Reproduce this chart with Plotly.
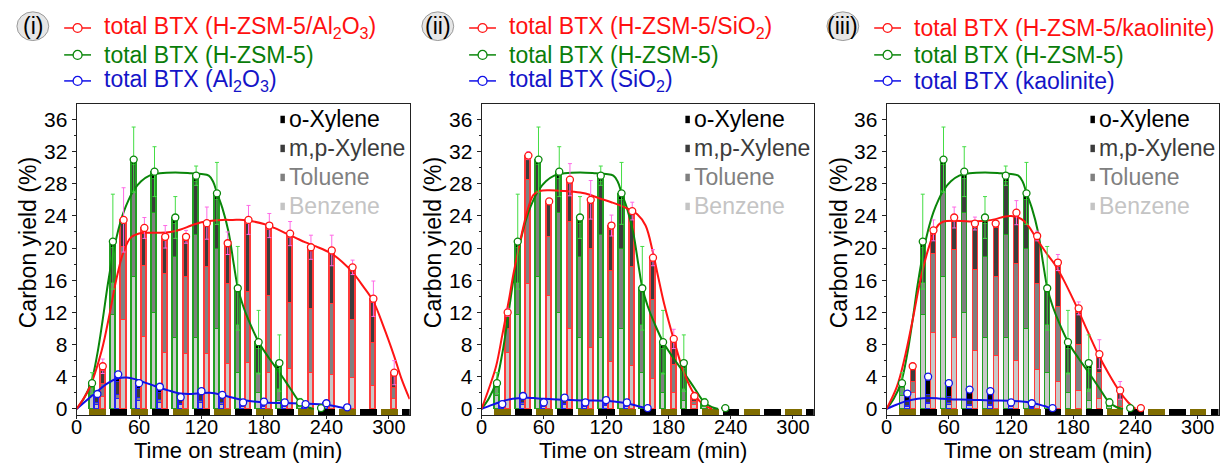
import plotly.graph_objects as go

W, H = 1220, 466
FONT = "Arial, Liberation Sans, sans-serif"

# ---------------- data ----------------
x_ticks = [0, 60, 120, 180, 240, 300]
y_ticks = [0, 4, 8, 12, 16, 20, 24, 28, 32, 36]
cycle_time = [20, 40, 60, 80, 100, 120, 140, 160, 180, 200, 220, 240, 260, 280, 300, 320]
component_labels = ["o-Xylene", "m,p-Xylene", "Toluene", "Benzene"]
panel_labels = ["(i)", "(ii)", "(iii)"]

# H-ZSM-5 alone (same run shown in every panel)
zsm_name = "total BTX (H-ZSM-5)"
zsm_time = [20, 40, 60, 80, 100, 120, 140, 160, 180, 200, 220, 240]
zsm_total = [3.2, 20.8, 31.0, 29.5, 23.8, 29.0, 26.8, 15.0, 8.3, 5.7, 0.8, 0.1]
zsm_err = [1.3, 5.9, 4.05, 3.1, 2.6, 1.2, 3.85, 5.2, 3.95, 3.5, 0.5, 0.0]
zsm_benzene = [1.6, 11.7, 16.4, 11.9, 8.8, 8.8, 10.0, 4.5, 2.0, 1.0, 0.2, 0.05]
zsm_toluene = [1.0, 4.0, 10.7, 12.5, 10.1, 12.9, 9.9, 6.0, 2.5, 1.5, 0.2, 0.03]
zsm_mpxylene = [0.45, 4.3, 3.3, 4.2, 4.1, 6.5, 6.1, 4.0, 3.0, 2.5, 0.3, 0.02]
zsm_oxylene = [0.15, 0.8, 0.6, 0.9, 0.8, 0.8, 0.8, 0.5, 0.8, 0.7, 0.1, 0.0]
zsm_fit_time = [0, 7, 14, 20, 25, 30, 35, 40, 45, 50, 55, 62, 70, 80, 95, 110, 120, 127, 131, 135,
                140, 146, 151, 155, 160, 167, 175, 185, 195, 205, 214, 222, 228]
zsm_fit_yield = [0, 1.3, 3.3, 6.9, 11.0, 15.5, 19.3, 22.2, 24.4, 26.0, 27.2, 28.3, 29.0, 29.3, 29.4, 29.3, 29.2, 29.0, 28.3, 26.8,
                 25.0, 22.0, 18.0, 15.0, 12.8, 10.5, 8.3, 6.3, 4.5, 2.6, 0.9, 0.2, 0]

# (i) H-ZSM-5/Al2O3 and Al2O3
hal_name = "total BTX (H-ZSM-5/Al<sub>2</sub>O<sub>3</sub>)"
hal_time = [20, 40, 60, 80, 100, 120, 140, 160, 180, 200, 220, 240, 260, 280, 300]
hal_total = [5.3, 23.5, 22.5, 21.4, 21.4, 23.1, 20.6, 23.5, 22.8, 21.8, 20.1, 19.7, 17.6, 13.7, 4.5]
hal_err = [0.9, 4.0, 1.3, 1.4, 0.8, 2.0, 1.4, 1.8, 1.5, 1.5, 1.5, 1.9, 0.9, 2.2, 1.5]
hal_benzene = [1.5, 11.1, 8.9, 7.0, 6.9, 6.8, 5.6, 5.7, 4.5, 5.0, 4.5, 4.2, 3.9, 2.9, 1.2]
hal_toluene = [1.6, 9.0, 8.9, 9.8, 9.5, 10.8, 10.0, 8.9, 9.5, 8.2, 7.9, 8.8, 7.2, 5.3, 1.4]
hal_mpxylene = [1.6, 2.9, 4.2, 4.1, 4.5, 5.0, 4.5, 8.4, 8.3, 8.1, 7.3, 6.3, 6.1, 5.0, 1.6]
hal_oxylene = [0.6, 0.5, 0.5, 0.5, 0.5, 0.5, 0.5, 0.5, 0.5, 0.5, 0.4, 0.4, 0.4, 0.5, 0.3]
hal_fit_time = [0, 12, 24, 32, 38, 45, 52, 60, 70, 80, 90, 100, 110, 120, 130, 140, 150, 160, 170, 180,
                190, 200, 210, 220, 230, 245, 255, 265, 275, 285, 295, 305, 312, 320]
hal_fit_yield = [0, 2.5, 7.2, 12.0, 16.0, 19.5, 21.3, 21.8, 21.9, 21.9, 22.0, 22.3, 22.8, 23.2, 23.4, 23.5, 23.5, 23.5, 23.3, 23.0,
                 22.5, 21.9, 21.3, 20.7, 20.2, 19.3, 18.3, 17.0, 15.3, 13.4, 10.2, 6.6, 3.8, 1.2]

al_name = "total BTX (Al<sub>2</sub>O<sub>3</sub>)"
al_time = [20, 40, 60, 80, 100, 120, 140, 160, 180, 200, 220, 240, 260]
al_total = [1.85, 4.3, 3.2, 2.75, 1.45, 2.2, 1.75, 0.8, 0.9, 0.8, 0.6, 0.7, 0.2]
al_err = [0.3, 0.4, 0.3, 0.3, 0.2, 0.3, 0.2, 0.1, 0.1, 0.1, 0.1, 0.1, 0.05]
al_benzene = [0.5, 1.3, 1.0, 0.8, 0.45, 0.7, 0.5, 0.25, 0.3, 0.25, 0.2, 0.2, 0.06]
al_toluene = [0.25, 0.5, 0.4, 0.35, 0.2, 0.3, 0.25, 0.1, 0.1, 0.1, 0.1, 0.1, 0.04]
al_mpxylene = [0.6, 1.5, 1.1, 0.9, 0.5, 0.7, 0.6, 0.25, 0.3, 0.25, 0.2, 0.25, 0.05]
al_oxylene = [0.5, 1.0, 0.7, 0.7, 0.3, 0.5, 0.4, 0.2, 0.2, 0.2, 0.1, 0.15, 0.05]
al_fit_time = [0, 10, 20, 30, 40, 48, 56, 65, 75, 88, 100, 110, 120, 128, 138, 148, 158, 168, 180, 200,
               220, 240, 250, 256, 260]
al_fit_yield = [0, 1.1, 2.2, 3.2, 3.8, 3.9, 3.7, 3.3, 2.85, 2.3, 1.9, 1.85, 1.95, 2.0, 1.8, 1.45, 1.15, 0.95, 0.8, 0.72,
                0.65, 0.5, 0.3, 0.12, 0]

# (ii) H-ZSM-5/SiO2 and SiO2
hsi_name = "total BTX (H-ZSM-5/SiO<sub>2</sub>)"
hsi_time = [20, 40, 60, 80, 100, 120, 140, 160, 180, 200]
hsi_total = [12.0, 31.5, 25.8, 28.5, 26.0, 22.8, 24.6, 18.8, 8.7, 1.6]
hsi_err = [0.5, 0.5, 0.3, 2.0, 2.4, 1.3, 1.1, 1.0, 1.2, 0.3]
hsi_benzene = [7.0, 15.5, 14.0, 10.0, 7.6, 5.9, 5.3, 3.7, 2.0, 0.5]
hsi_toluene = [3.0, 13.0, 7.35, 13.2, 12.3, 11.3, 12.3, 9.8, 3.5, 0.4]
hsi_mpxylene = [1.7, 2.5, 4.0, 4.8, 5.6, 5.1, 6.5, 4.8, 2.8, 0.5]
hsi_oxylene = [0.3, 0.5, 0.45, 0.5, 0.5, 0.5, 0.5, 0.5, 0.4, 0.2]
hsi_fit_time = [0, 7, 14, 20, 27, 30, 35, 40, 45, 50, 56, 65, 80, 95, 105, 113, 125, 139, 150, 158,
                165, 170, 176, 185, 195, 205, 214, 222]
hsi_fit_yield = [0, 2.5, 5.3, 9.2, 14.0, 16.3, 19.5, 22.5, 25.0, 26.6, 27.1, 27.2, 27.1, 26.9, 26.6, 26.2, 25.7, 25.0, 24.2, 22.8,
                 19.5, 16.5, 13.0, 8.7, 4.5, 1.8, 0.5, 0]

si_name = "total BTX (SiO<sub>2</sub>)"
si_time = [20, 40, 60, 80, 100, 120, 140, 160]
si_total = [0.6, 1.6, 0.8, 1.4, 0.8, 1.1, 0.8, 0.1]
si_err = [0.2, 0.3, 0.2, 0.2, 0.2, 0.2, 0.2, 0.05]
si_benzene = [0.2, 0.5, 0.25, 0.45, 0.25, 0.35, 0.25, 0.03]
si_toluene = [0.1, 0.2, 0.1, 0.2, 0.1, 0.15, 0.1, 0.02]
si_mpxylene = [0.2, 0.6, 0.3, 0.5, 0.3, 0.4, 0.3, 0.03]
si_oxylene = [0.1, 0.3, 0.15, 0.25, 0.15, 0.2, 0.15, 0.02]
si_fit_time = [0, 10, 20, 30, 40, 50, 60, 80, 100, 120, 135, 145, 152, 158, 162]
si_fit_yield = [0, 0.5, 0.95, 1.25, 1.4, 1.35, 1.25, 1.15, 1.05, 1.0, 0.8, 0.55, 0.3, 0.1, 0]

# (iii) H-ZSM-5/kaolinite and kaolinite
hka_name = "total BTX (H-ZSM-5/kaolinite)"
hka_time = [20, 40, 60, 80, 100, 120, 140, 160, 180, 200, 220, 240]
hka_total = [5.3, 22.2, 23.8, 23.05, 23.05, 24.4, 21.5, 18.2, 12.5, 6.8, 2.3, 0.1]
hka_err = [0.4, 1.3, 1.3, 0.8, 0.3, 1.5, 0.6, 1.0, 0.8, 1.8, 1.1, 0.0]
hka_benzene = [2.0, 9.4, 8.8, 7.2, 6.6, 6.0, 4.9, 3.3, 2.3, 1.2, 0.3, 0.05]
hka_toluene = [1.4, 9.9, 11.0, 10.05, 9.85, 12.0, 10.7, 9.4, 5.7, 3.3, 0.8, 0.03]
hka_mpxylene = [1.4, 2.4, 3.5, 5.3, 6.1, 5.9, 5.4, 5.0, 4.0, 1.9, 1.0, 0.02]
hka_oxylene = [0.5, 0.5, 0.5, 0.5, 0.5, 0.5, 0.5, 0.5, 0.5, 0.4, 0.2, 0.0]
hka_fit_time = [0, 10, 17, 25, 33, 40, 46, 50, 55, 65, 80, 95, 105, 113, 120, 127, 133, 138, 143, 148,
                155, 162, 170, 177, 184, 194, 204, 214, 225, 233, 240]
hka_fit_yield = [0, 2.8, 6.1, 11.0, 16.3, 19.8, 22.0, 22.9, 23.3, 23.4, 23.3, 23.4, 23.6, 23.9, 24.0, 23.8, 23.3, 22.5, 21.5, 20.5,
                 19.2, 18.0, 16.2, 14.4, 12.5, 9.6, 6.8, 4.4, 2.1, 0.8, 0]

ka_name = "total BTX (kaolinite)"
ka_time = [20, 40, 60, 80, 100, 120, 140, 160]
ka_total = [1.9, 4.0, 3.2, 2.4, 2.2, 0.8, 0.7, 0.1]
ka_err = [0.3, 0.4, 0.3, 0.3, 0.3, 0.1, 0.1, 0.05]
ka_benzene = [0.3, 0.6, 0.5, 0.4, 0.35, 0.2, 0.15, 0.03]
ka_toluene = [0.1, 0.2, 0.2, 0.1, 0.1, 0.05, 0.05, 0.02]
ka_mpxylene = [0.5, 1.0, 0.8, 0.6, 0.55, 0.25, 0.2, 0.03]
ka_oxylene = [1.0, 2.2, 1.7, 1.3, 1.2, 0.3, 0.3, 0.02]
ka_fit_time = [0, 10, 20, 30, 40, 50, 60, 80, 100, 120, 135, 145, 152, 158, 163]
ka_fit_yield = [0, 0.55, 1.0, 1.25, 1.35, 1.3, 1.2, 1.15, 1.05, 1.0, 0.85, 0.6, 0.35, 0.12, 0]

# ---------------- styles / geometry ----------------
SEG_COLORS = ["#c8c8c8", "#808080", "#3c3c3c", "#000000"]   # benzene, toluene, m,p-xylene, o-xylene
LEGEND_SQ = ["#000000", "#3c3c3c", "#808080", "#c4c4c4"]    # order of component_labels
GREEN = dict(line="#0a860a", edge="#22a022", err="#44dd44", text="#0a7d0a")
RED = dict(line="#ff1414", edge="#ff3a3a", err="#ff6ae6", text="#ff1010")
BLUE = dict(line="#1010e8", edge="#2424f0", err="#8c8cff", text="#1414c8")
OLIVE = "#7f6c00"
STRIP = 0.76
Y_TOP = 37.93
TOP_PX, BOT_PX = 105.0, 419.5
BAR_W = 4.9
OFFSET = 5.15
FS_TEXT = 23
FS_TITLE = 22
FS_YTICK = 21
FS_XTICK = 20

def series(time, total, err, b, t, mp, o, ft, fy, name):
    return dict(time=time, total=total, err=err, comps=[b, t, mp, o], fit_t=ft, fit_y=fy, name=name)

zsm = series(zsm_time, zsm_total, zsm_err, zsm_benzene, zsm_toluene, zsm_mpxylene, zsm_oxylene,
             zsm_fit_time, zsm_fit_yield, zsm_name)
panels = [
    dict(left=71.0, right=406.0,
         hybrid=series(hal_time, hal_total, hal_err, hal_benzene, hal_toluene, hal_mpxylene, hal_oxylene,
                       hal_fit_time, hal_fit_yield, hal_name),
         single=series(al_time, al_total, al_err, al_benzene, al_toluene, al_mpxylene, al_oxylene,
                       al_fit_time, al_fit_yield, al_name)),
    dict(left=478.3, right=812.4,
         hybrid=series(hsi_time, hsi_total, hsi_err, hsi_benzene, hsi_toluene, hsi_mpxylene, hsi_oxylene,
                       hsi_fit_time, hsi_fit_yield, hsi_name),
         single=series(si_time, si_total, si_err, si_benzene, si_toluene, si_mpxylene, si_oxylene,
                       si_fit_time, si_fit_yield, si_name)),
    dict(left=885.7, right=1219.5,
         hybrid=series(hka_time, hka_total, hka_err, hka_benzene, hka_toluene, hka_mpxylene, hka_oxylene,
                       hka_fit_time, hka_fit_yield, hka_name),
         single=series(ka_time, ka_total, ka_err, ka_benzene, ka_toluene, ka_mpxylene, ka_oxylene,
                       ka_fit_time, ka_fit_yield, ka_name)),
]

def px(x):
    return x / W

def py(y):
    return 1 - y / H

fig = go.Figure()
shapes, annotations = [], []

for i, p in enumerate(panels):
    sfx = "" if i == 0 else str(i + 1)
    xa, ya = "x" + sfx, "y" + sfx
    # reaction / regeneration cycle strip
    fig.add_trace(go.Bar(
        x=cycle_time, y=[STRIP] * len(cycle_time), base=-STRIP, width=16,
        marker=dict(color=[OLIVE if k % 2 == 0 else "#000000" for k in range(len(cycle_time))],
                    line=dict(width=0)),
        xaxis=xa, yaxis=ya, showlegend=False, hoverinfo="skip"))
    trio = [(zsm, GREEN, -OFFSET), (p["single"], BLUE, 0.0), (p["hybrid"], RED, OFFSET)]
    # stacked composition bars
    for s, st, off in trio:
        xs = [t + off for t in s["time"]]
        for comp, col in zip(s["comps"], SEG_COLORS):
            fig.add_trace(go.Bar(
                x=xs, y=comp, width=BAR_W,
                marker=dict(color=col, line=dict(color=st["edge"], width=1.1)),
                xaxis=xa, yaxis=ya, showlegend=False, hoverinfo="skip"))
    # smoothed trend lines
    for s, st, off in trio:
        fig.add_trace(go.Scatter(
            x=s["fit_t"], y=s["fit_y"], mode="lines",
            line=dict(color=st["line"], width=2, shape="spline", smoothing=1.0),
            xaxis=xa, yaxis=ya, showlegend=False, hoverinfo="skip"))
    # total BTX points with error bars
    for s, st, off in trio:
        xs = [t + off for t in s["time"]]
        fig.add_trace(go.Scatter(
            x=xs, y=s["total"], mode="markers",
            marker=dict(symbol="circle", size=7, color="white", line=dict(color=st["line"], width=1.3)),
            error_y=dict(type="data", array=s["err"], color=st["err"], thickness=1, width=2),
            xaxis=xa, yaxis=ya, showlegend=False))

    fig.update_layout(**{
        "xaxis" + sfx: dict(domain=[px(p["left"]), px(p["right"])], anchor=ya, range=[0, 320],
                            tickvals=x_ticks, ticks="outside", ticklen=3, tickcolor="#222",
                            ticklabelstandoff=-9,
                            showline=True, linecolor="#222", linewidth=1, mirror=True,
                            showgrid=False, zeroline=False,
                            tickfont=dict(family=FONT, size=FS_XTICK, color="#000")),
        "yaxis" + sfx: dict(domain=[py(BOT_PX), py(TOP_PX)], anchor=xa, range=[-STRIP, Y_TOP],
                            tickvals=y_ticks, ticks="outside", ticklen=4, tickcolor="#222",
                            minor=dict(tickvals=[v + 2 for v in y_ticks], ticks="outside", ticklen=2,
                                       tickcolor="#222"),
                            showline=True, linecolor="#222", linewidth=1, mirror=True,
                            showgrid=False, zeroline=False,
                            tickfont=dict(family=FONT, size=FS_YTICK, color="#000")),
    })

    L = p["left"]
    # axis titles
    annotations.append(dict(text="Carbon yield (%)", textangle=-90, xref="paper", yref="paper",
                            x=px(L - 48), y=py(245), xanchor="center", yanchor="middle", showarrow=False,
                            font=dict(family=FONT, size=FS_TEXT, color="#000")))
    annotations.append(dict(text="Time on stream (min)", xref="paper", yref="paper",
                            x=px(L + 162), y=py(455), xanchor="center", yanchor="middle", showarrow=False,
                            font=dict(family=FONT, size=FS_TITLE, color="#000")))
    # circled panel label
    cx, cy = L - 44, 26.5
    shapes.append(dict(type="circle", xref="paper", yref="paper",
                       x0=px(cx - 16), x1=px(cx + 16), y0=py(cy + 14.5), y1=py(cy - 14.5),
                       fillcolor="#e6e6e6", line=dict(color="#9a9a9a", width=1), layer="below"))
    annotations.append(dict(text=panel_labels[i], xref="paper", yref="paper", x=px(cx), y=py(cy),
                            xanchor="center", yanchor="middle", showarrow=False,
                            font=dict(family=FONT, size=FS_TEXT, color="#000")))
    # top legend (series)
    rows = [(p["hybrid"], RED, 28.3), (zsm, GREEN, 55.5), (p["single"], BLUE, 81.8)]
    for s, st, ry in rows:
        shapes.append(dict(type="line", xref="paper", yref="paper",
                           x0=px(L - 12.5), x1=px(L + 14.5), y0=py(ry), y1=py(ry),
                           line=dict(color=st["line"], width=1.5)))
        shapes.append(dict(type="circle", xref="paper", yref="paper",
                           x0=px(L - 3.5), x1=px(L + 5.5), y0=py(ry + 4.5), y1=py(ry - 4.5),
                           fillcolor="white", line=dict(color=st["line"], width=1.3)))
        annotations.append(dict(text=s["name"], xref="paper", yref="paper", x=px(L + 26), y=py(ry),
                                xanchor="left", yanchor="middle", showarrow=False,
                                font=dict(family=FONT, size=FS_TEXT, color=st["text"])))
    # inner legend (components)
    for k, (lab, col) in enumerate(zip(component_labels, LEGEND_SQ)):
        ry = 120.5 + k * 29.3
        shapes.append(dict(type="rect", xref="paper", yref="paper",
                           x0=px(L + 205), x1=px(L + 209.5), y0=py(ry + 4), y1=py(ry - 3.5),
                           fillcolor=col, line=dict(width=0)))
        annotations.append(dict(text=lab, xref="paper", yref="paper", x=px(L + 212), y=py(ry),
                                xanchor="left", yanchor="middle", showarrow=False,
                                font=dict(family=FONT, size=FS_TEXT, color=col)))

fig.update_layout(
    width=W, height=H, margin=dict(l=0, r=0, t=0, b=0),
    barmode="stack", bargap=0,
    paper_bgcolor="white", plot_bgcolor="white",
    showlegend=False, shapes=shapes, annotations=annotations,
    font=dict(family=FONT, color="#000"),
)

fig.write_html("out.html")
